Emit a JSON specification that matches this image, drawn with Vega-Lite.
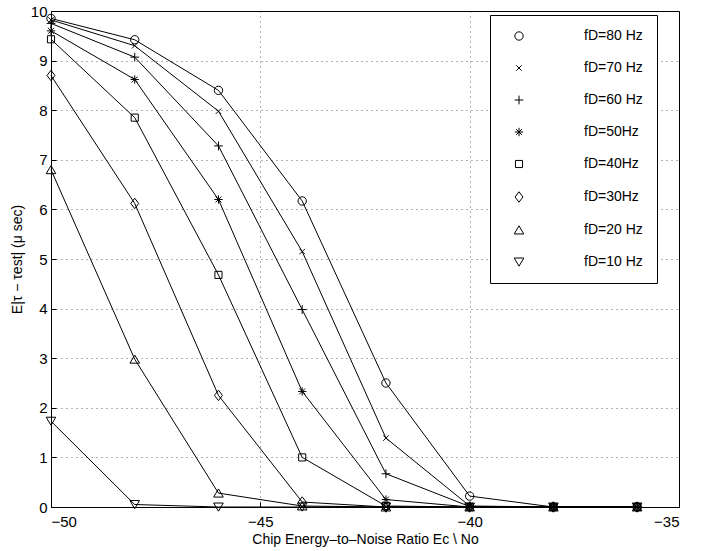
{
  "$schema": "https://vega.github.io/schema/vega-lite/v6.json",
  "autosize": {"type": "none"},
  "width": 628,
  "height": 496,
  "padding": {"left": 51, "top": 11, "right": 27, "bottom": 44},
  "background": "white",
  "config": {
    "font": "Liberation Sans",
    "view": {"stroke": "black", "strokeWidth": 1},
    "axis": {
      "domainColor": "black",
      "tickColor": "black",
      "tickSize": -5,
      "labelColor": "black",
      "titleColor": "black",
      "labelFontSize": 15,
      "titleFontSize": 14,
      "titleFontWeight": "normal",
      "gridColor": "black",
      "gridDash": [1, 4],
      "gridOpacity": 0.6
    }
  },
  "data": {
    "values": [
      {"snr": -50, "err": 9.85, "series": "fD=80 Hz"},
      {"snr": -48, "err": 9.42, "series": "fD=80 Hz"},
      {"snr": -46, "err": 8.4, "series": "fD=80 Hz"},
      {"snr": -44, "err": 6.17, "series": "fD=80 Hz"},
      {"snr": -42, "err": 2.5, "series": "fD=80 Hz"},
      {"snr": -40, "err": 0.22, "series": "fD=80 Hz"},
      {"snr": -38, "err": 0, "series": "fD=80 Hz"},
      {"snr": -36, "err": 0, "series": "fD=80 Hz"},
      {"snr": -50, "err": 9.82, "series": "fD=70 Hz"},
      {"snr": -48, "err": 9.3, "series": "fD=70 Hz"},
      {"snr": -46, "err": 7.98, "series": "fD=70 Hz"},
      {"snr": -44, "err": 5.15, "series": "fD=70 Hz"},
      {"snr": -42, "err": 1.39, "series": "fD=70 Hz"},
      {"snr": -40, "err": 0.02, "series": "fD=70 Hz"},
      {"snr": -38, "err": 0, "series": "fD=70 Hz"},
      {"snr": -36, "err": 0, "series": "fD=70 Hz"},
      {"snr": -50, "err": 9.75, "series": "fD=60 Hz"},
      {"snr": -48, "err": 9.07, "series": "fD=60 Hz"},
      {"snr": -46, "err": 7.28, "series": "fD=60 Hz"},
      {"snr": -44, "err": 3.98, "series": "fD=60 Hz"},
      {"snr": -42, "err": 0.67, "series": "fD=60 Hz"},
      {"snr": -40, "err": 0.01, "series": "fD=60 Hz"},
      {"snr": -38, "err": 0, "series": "fD=60 Hz"},
      {"snr": -36, "err": 0, "series": "fD=60 Hz"},
      {"snr": -50, "err": 9.6, "series": "fD=50Hz"},
      {"snr": -48, "err": 8.62, "series": "fD=50Hz"},
      {"snr": -46, "err": 6.2, "series": "fD=50Hz"},
      {"snr": -44, "err": 2.33, "series": "fD=50Hz"},
      {"snr": -42, "err": 0.15, "series": "fD=50Hz"},
      {"snr": -40, "err": 0, "series": "fD=50Hz"},
      {"snr": -38, "err": 0, "series": "fD=50Hz"},
      {"snr": -36, "err": 0, "series": "fD=50Hz"},
      {"snr": -50, "err": 9.43, "series": "fD=40Hz"},
      {"snr": -48, "err": 7.85, "series": "fD=40Hz"},
      {"snr": -46, "err": 4.68, "series": "fD=40Hz"},
      {"snr": -44, "err": 1.0, "series": "fD=40Hz"},
      {"snr": -42, "err": 0.02, "series": "fD=40Hz"},
      {"snr": -40, "err": 0, "series": "fD=40Hz"},
      {"snr": -38, "err": 0, "series": "fD=40Hz"},
      {"snr": -36, "err": 0, "series": "fD=40Hz"},
      {"snr": -50, "err": 8.7, "series": "fD=30Hz"},
      {"snr": -48, "err": 6.12, "series": "fD=30Hz"},
      {"snr": -46, "err": 2.25, "series": "fD=30Hz"},
      {"snr": -44, "err": 0.1, "series": "fD=30Hz"},
      {"snr": -42, "err": 0, "series": "fD=30Hz"},
      {"snr": -40, "err": 0, "series": "fD=30Hz"},
      {"snr": -38, "err": 0, "series": "fD=30Hz"},
      {"snr": -36, "err": 0, "series": "fD=30Hz"},
      {"snr": -50, "err": 6.8, "series": "fD=20 Hz"},
      {"snr": -48, "err": 2.98, "series": "fD=20 Hz"},
      {"snr": -46, "err": 0.28, "series": "fD=20 Hz"},
      {"snr": -44, "err": 0.02, "series": "fD=20 Hz"},
      {"snr": -42, "err": 0, "series": "fD=20 Hz"},
      {"snr": -40, "err": 0, "series": "fD=20 Hz"},
      {"snr": -38, "err": 0, "series": "fD=20 Hz"},
      {"snr": -36, "err": 0, "series": "fD=20 Hz"},
      {"snr": -50, "err": 1.73, "series": "fD=10 Hz"},
      {"snr": -48, "err": 0.05, "series": "fD=10 Hz"},
      {"snr": -46, "err": 0.0, "series": "fD=10 Hz"},
      {"snr": -44, "err": 0, "series": "fD=10 Hz"},
      {"snr": -42, "err": 0, "series": "fD=10 Hz"},
      {"snr": -40, "err": 0, "series": "fD=10 Hz"},
      {"snr": -38, "err": 0, "series": "fD=10 Hz"},
      {"snr": -36, "err": 0, "series": "fD=10 Hz"}
    ]
  },
  "encoding": {
    "x": {
      "field": "snr",
      "type": "quantitative",
      "scale": {"domain": [-50, -35], "nice": false, "zero": false},
      "axis": {"values": [-50, -45, -40, -35], "title": "Chip Energy–to–Noise Ratio Ec \\ No", "labelPadding": 12, "titlePadding": 3}
    },
    "y": {
      "field": "err",
      "type": "quantitative",
      "scale": {"domain": [0, 10], "nice": false},
      "axis": {"values": [0, 1, 2, 3, 4, 5, 6, 7, 8, 9, 10], "title": "E|τ − τest| (μ sec)", "labelPadding": 9, "titlePadding": 6}
    }
  },
  "layer": [
    {
      "mark": {"type": "line", "color": "black", "strokeWidth": 1},
      "encoding": {"detail": {"field": "series"}}
    },
    {
      "mark": {"type": "point", "filled": false, "stroke": "black", "strokeWidth": 1, "size": 70, "opacity": 1},
      "encoding": {
        "shape": {
          "field": "series",
          "type": "nominal",
          "scale": {
            "domain": ["fD=80 Hz", "fD=70 Hz", "fD=60 Hz", "fD=50Hz", "fD=40Hz", "fD=30Hz", "fD=20 Hz", "fD=10 Hz"],
            "range": [
              "circle",
              "M-0.65,-0.65L0.65,0.65M-0.65,0.65L0.65,-0.65",
              "M-1.05,0L1.05,0M0,-1.05L0,1.05",
              "M-1,0L1,0M0,-1L0,1M-0.7,-0.7L0.7,0.7M-0.7,0.7L0.7,-0.7",
              "M-0.85,-0.85L0.85,-0.85L0.85,0.85L-0.85,0.85Z",
              "M0,-1.25L0.95,0L0,1.25L-0.95,0Z",
              "M0,-1L1.15,0.95L-1.15,0.95Z",
              "M0,1L1.15,-0.95L-1.15,-0.95Z"
            ]
          },
          "legend": {
            "title": null,
            "orient": "none",
            "legendX": 439,
            "legendY": 4,
            "padding": 14,
            "strokeColor": "black",
            "fillColor": "white",
            "symbolStrokeColor": "black",
            "symbolFillColor": "transparent",
            "symbolSize": 70,
            "symbolStrokeWidth": 1,
            "symbolOffset": 8,
            "labelOffset": 58,
            "labelFontSize": 14,
            "labelColor": "black",
            "rowPadding": 18,
            "symbolType": "circle"
          }
        }
      }
    }
  ]
}
